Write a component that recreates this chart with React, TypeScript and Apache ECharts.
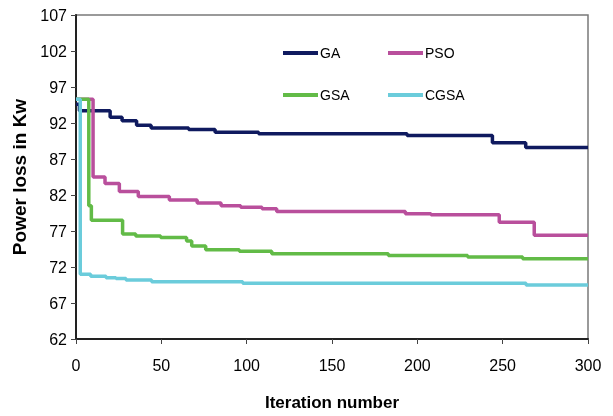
import React, { useEffect, useRef } from "react";
import * as echarts from "echarts";

const seriesNames = ["GA", "PSO", "GSA", "CGSA"];
const seriesColors = ["#0F1A5F", "#B94F9C", "#62BB47", "#6BCCDB"];

// [iteration, power loss] breakpoints: value holds from that iteration on
const gaData: [number, number][] = [
  [0, 94.6], [2, 93.7], [20, 92.8], [27, 92.3], [35.5, 91.7], [44, 91.3], [66, 91.1],
  [81.5, 90.7], [107, 90.5], [194, 90.25], [244, 89.25], [263.5, 88.6], [300, 88.6],
];
const psoData: [number, number][] = [
  [0, 95.3], [10, 84.5], [17, 83.6], [25.4, 82.5], [36.5, 81.8], [54.7, 81.3], [71, 80.9],
  [85, 80.5], [96.5, 80.3], [109, 80.1], [117.6, 79.7], [193, 79.4], [208, 79.25],
  [248, 78.2], [268.5, 76.4], [300, 76.4],
];
const gsaData: [number, number][] = [
  [0, 95.3], [7.5, 80.5], [9, 78.5], [27.3, 76.6], [35, 76.3], [49.6, 76.1], [64.8, 75.6],
  [67.8, 74.9], [76, 74.4], [95.7, 74.2], [114.7, 73.85], [183, 73.6], [229.5, 73.4],
  [261.7, 73.15], [300, 73.15],
];
const cgsaData: [number, number][] = [
  [0, 95.3], [2.5, 71.0], [8.6, 70.7], [17.6, 70.5], [23.4, 70.4], [29.3, 70.2],
  [44.3, 69.95], [97.7, 69.75], [263.7, 69.5], [300, 69.5],
];
const allData = [gaData, psoData, gsaData, cgsaData];

const xTicks = { min: 0, max: 300, interval: 50 };
const yTicks = { min: 62, max: 107, interval: 5 };

const legendPos = [
  { left: 283, top: 46 },
  { left: 388, top: 46 },
  { left: 283, top: 88 },
  { left: 388, top: 88 },
];

export default function App() {
  const ref = useRef<HTMLDivElement>(null);
  useEffect(() => {
    if (!ref.current) return;
    const chart = echarts.init(ref.current, undefined, { renderer: "svg" });
    const font = "'Liberation Sans', Arial, sans-serif";
    chart.setOption({
      animation: false,
      textStyle: { fontFamily: font },
      grid: {
        left: 76,
        right: 25,
        top: 15,
        bottom: 74,
        show: true,
        borderColor: "#7a7a7a",
        borderWidth: 1.5,
      },
      legend: seriesNames.map((n, i) => ({
        data: [n],
        left: legendPos[i].left,
        top: legendPos[i].top,
        padding: 0,
        icon: "rect",
        itemWidth: 35,
        itemHeight: 4,
        itemGap: 0,
        textStyle: { fontSize: 14, color: "#000", fontFamily: font, padding: [0, 0, 0, -3] },
        selectedMode: false,
      })),
      xAxis: {
        type: "value",
        min: xTicks.min,
        max: xTicks.max,
        interval: xTicks.interval,
        name: "Iteration number",
        nameLocation: "middle",
        nameGap: 55,
        nameTextStyle: { fontSize: 17, fontWeight: "bold", color: "#000", fontFamily: font },
        axisLine: { lineStyle: { color: "#222", width: 2 } },
        axisTick: { show: true, inside: false, length: 5, lineStyle: { color: "#444" } },
        axisLabel: { fontSize: 16, color: "#000", margin: 18 },
        splitLine: { show: false },
      },
      yAxis: {
        type: "value",
        min: yTicks.min,
        max: yTicks.max,
        interval: yTicks.interval,
        name: "Power loss in Kw",
        nameLocation: "middle",
        nameGap: 46,
        nameTextStyle: { fontSize: 19, fontWeight: "bold", color: "#000", fontFamily: font },
        axisLine: { show: true, lineStyle: { color: "#222", width: 2 } },
        axisTick: { show: true, inside: false, length: 5, lineStyle: { color: "#444" } },
        axisLabel: { fontSize: 16, color: "#000", margin: 9 },
        splitLine: { show: false },
      },
      series: seriesNames.map((n, i) => ({
        name: n,
        type: "line",
        step: "end",
        data: allData[i],
        showSymbol: false,
        symbol: "none",
        color: seriesColors[i],
        lineStyle: { width: 3.5, color: seriesColors[i] },
      })),
    });
    return () => chart.dispose();
  }, []);
  return (
    <div
      ref={ref}
      style={{ position: "fixed", left: 0, top: 0, width: 613, height: 416 }}
    />
  );
}
